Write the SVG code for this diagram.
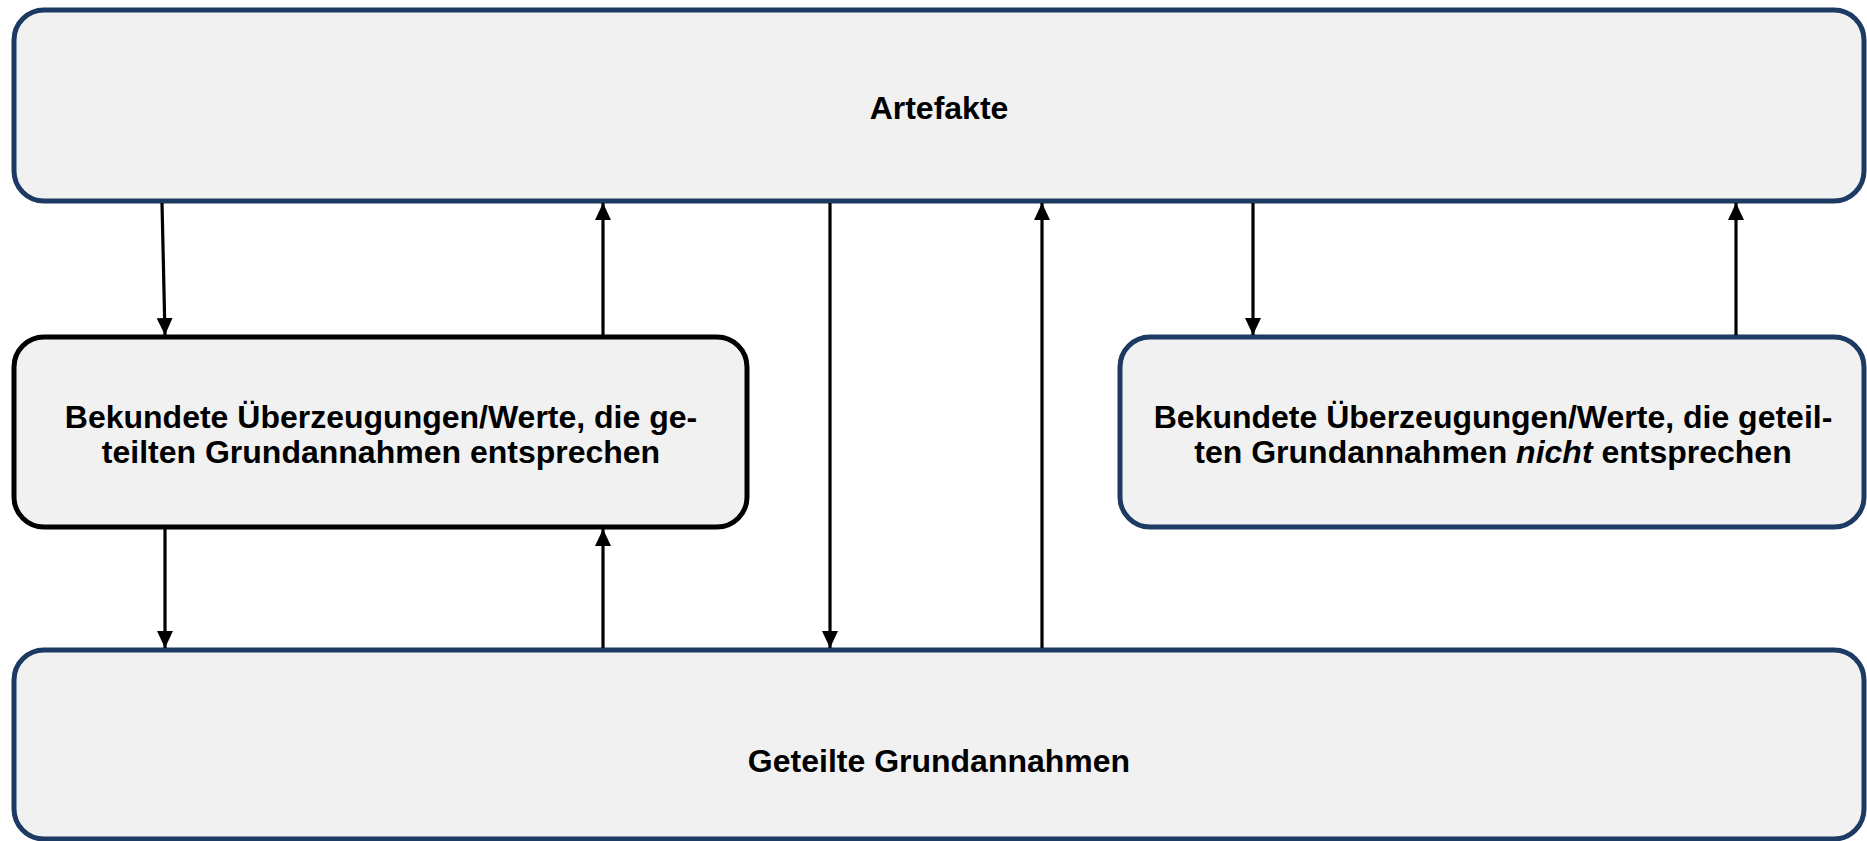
<svg xmlns="http://www.w3.org/2000/svg" width="1867" height="841" viewBox="0 0 1867 841">
<style>
.box{fill:#f1f1f1;stroke:#1d3a62;stroke-width:5}
.boxb{fill:#f1f1f1;stroke:#000;stroke-width:5}
.lbl{font-family:"Liberation Sans",Arial,sans-serif;font-weight:bold;font-size:32px;fill:#000;text-anchor:middle}
.conn{stroke:#000;stroke-width:3.2;fill:none;marker-end:url(#ah)}
</style>
<defs>
<marker id="ah" markerUnits="userSpaceOnUse" markerWidth="17" markerHeight="16" refX="17" refY="8" orient="auto">
<path d="M0,0 L17,8 L0,16 Z" fill="#000"/>
</marker>
</defs>
<g id="artefakte">
<rect class="box" x="14" y="10" width="1850" height="191" rx="30"/>
<text class="lbl" x="939" y="119">Artefakte</text>
</g>
<g id="werte-entsprechen">
<rect class="boxb" x="14" y="337" width="733" height="190" rx="30"/>
<text class="lbl" x="381" y="428">Bekundete Überzeugungen/Werte, die ge-</text>
<text class="lbl" x="381" y="463">teilten Grundannahmen entsprechen</text>
</g>
<g id="werte-nicht-entsprechen">
<rect class="box" x="1120" y="337" width="744" height="190" rx="30"/>
<text class="lbl" x="1493" y="428">Bekundete Überzeugungen/Werte, die geteil-</text>
<text class="lbl" x="1493" y="463">ten Grundannahmen <tspan font-style="italic">nicht</tspan> entsprechen</text>
</g>
<g id="grundannahmen">
<rect class="box" x="14" y="650" width="1850" height="189" rx="30"/>
<text class="lbl" x="939" y="772">Geteilte Grundannahmen</text>
</g>
<g id="connectors">
<path class="conn" d="M162,203 L165,335"/>
<path class="conn" d="M603,335 L603,203"/>
<path class="conn" d="M830,203 L830,648"/>
<path class="conn" d="M1042,648 L1042,203"/>
<path class="conn" d="M1253,203 L1253,335"/>
<path class="conn" d="M1736,335 L1736,203"/>
<path class="conn" d="M165,529 L165,648"/>
<path class="conn" d="M603,648 L603,529"/>
</g>
</svg>
